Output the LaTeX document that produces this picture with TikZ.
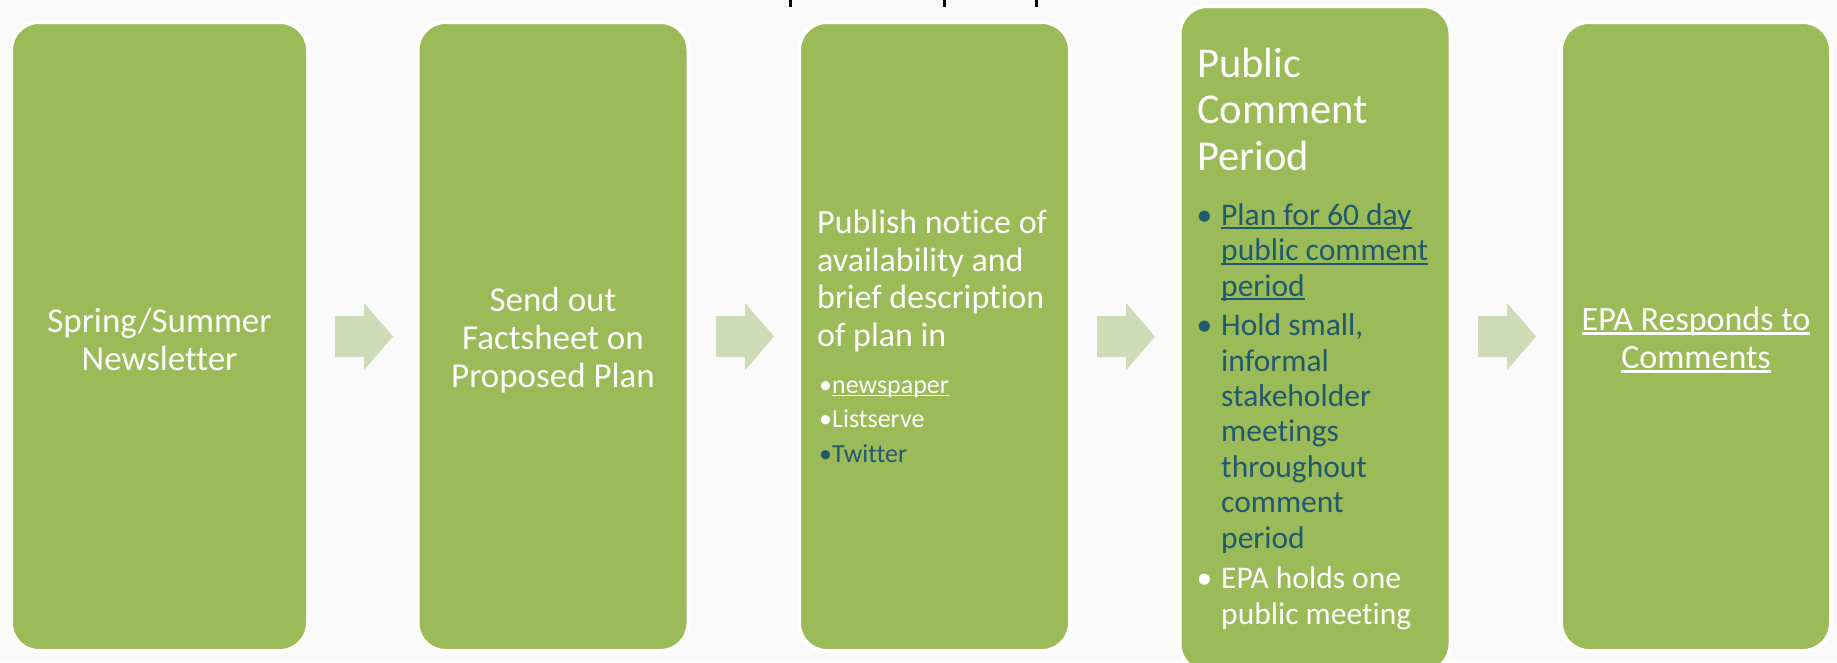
\documentclass[tikz,border=0pt]{standalone}
\usepackage{fontspec}
\setmainfont{Carlito}[Ligatures=NoCommon]
\definecolor{bggray}{HTML}{FAFAFA}
\definecolor{boxgreen}{HTML}{9BBB59}
\definecolor{arrowgreen}{HTML}{CDDBB7}
\definecolor{darkblue}{HTML}{215A6E}
\newcommand{\myul}[1]{\setbox0\hbox{#1}\rlap{\rule[-0.13em]{\wd0}{0.065em}}\box0}
\tikzset{
  greenbox/.style={draw=white, line width=4pt, fill=boxgreen, rounded corners=28pt, inner sep=0pt},
  ctxt/.style={inner sep=0pt, text=white, align=center},
  blockarrow/.style={fill=arrowgreen, draw=none},
  txt/.style={inner sep=0pt, text=white, anchor=base west}
}
\begin{document}
\begin{tikzpicture}[x=1pt,y=-1pt]
\useasboundingbox (0,0) rectangle (1837,662);
\fill[bggray] (0,0) rectangle (1837,662);
% cut-off title descenders at the top edge
\fill[black] (789,0) rectangle (791.5,7);
\fill[black] (943,0) rectangle (945.5,7);
\fill[black] (1035,0) rectangle (1037.5,7);
% boxes
\node[greenbox, minimum width=297pt, minimum height=629pt] (b1) at (159.5,336.5) {};
\node[greenbox, minimum width=271pt, minimum height=629pt] (b2) at (553,336.5) {};
\node[greenbox, minimum width=271pt, minimum height=629pt] (b3) at (934.5,336.5) {};
\node[greenbox, minimum width=271pt, minimum height=666pt] (b4) at (1315,339) {};
\node[greenbox, minimum width=270pt, minimum height=629pt] (b5) at (1696,336.5) {};
% centred texts
\node[ctxt, font=\fontsize{35}{38}\selectfont] (l1) at ([yshift=-3pt]b1.center) {Spring/Summer\\Newsletter};
\node[ctxt, font=\fontsize{35}{38}\selectfont] (l2) at ([yshift=-4pt]b2.center) {Send out\\Factsheet on\\Proposed Plan};
\node[ctxt, font=\fontsize{34}{38}\selectfont] (l5) at ([yshift=-3pt]b5.center) {\myul{EPA Responds to}\\\myul{Comments}};
% block arrows
\foreach \n/\x in {a1/335,a2/716,a3/1097,a4/1478}{
  \coordinate (\n) at (\x,336.5);
  \fill[blockarrow] (\n) ++(0,-20.5) -- ++(29,0) -- ++(0,-13) -- ++(29,33.5) -- ++(-29,33.5) -- ++(0,-13) -- ++(-29,0) -- cycle;
}
% box 3 text (anchored at the baseline of the last line)
\node[txt, font=\fontsize{34}{37.4}\selectfont, align=left] (t3) at (817,346) {Publish notice of\\availability and\\brief description\\of plan in};
\node[txt, font=\fontsize{26}{34.5}\selectfont, align=left] (t3b) at (819,462) {•\myul{newspaper}\\•Listserve\\\textcolor{darkblue}{•Twitter}};
% box 4 text
\node[txt, font=\fontsize{42.5}{46.5}\selectfont, align=left] (t4) at (1197,170) {Public\\Comment\\Period};
\node[txt, text=darkblue, font=\fontsize{31.5}{35.4}\selectfont, align=left] (t4a) at (1221,296) {\llap{•\hspace{9pt}}\myul{Plan for 60 day}\\\myul{public comment}\\\myul{period}};
\node[txt, text=darkblue, font=\fontsize{31.5}{35.4}\selectfont, align=left] (t4b) at (1221,548) {\llap{•\hspace{9pt}}Hold small,\\informal\\stakeholder\\meetings\\throughout\\comment\\period};
\node[txt, font=\fontsize{31.5}{35.4}\selectfont, align=left] (t4c) at (1221,624) {\llap{•\hspace{9pt}}EPA holds one\\public meeting};
\end{tikzpicture}
\end{document}
